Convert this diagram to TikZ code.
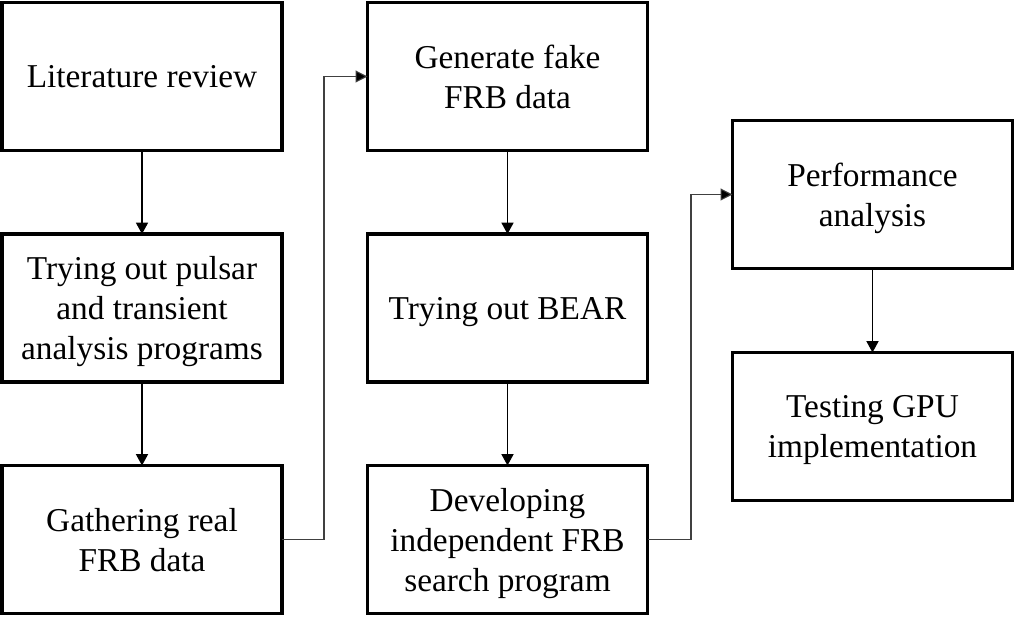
\documentclass[tikz,border=0pt]{standalone}
\usepackage{fontspec}
\setmainfont{Liberation Serif}
\usetikzlibrary{arrows.meta}
\begin{document}
\begin{tikzpicture}[x=0.75pt,y=-0.75pt,
  box/.style={draw=black,line width=2.4pt,minimum width=280*0.75pt,minimum height=148*0.75pt,
    inner sep=0pt,outer sep=0pt,align=center,text depth=0pt,font=\fontsize{25}{30}\selectfont},
  flow/.style={line width=1.1pt,-{Triangle[length=8.5pt,width=9pt]}},
  elbow/.style={line width=0.8pt,draw=black!75,-{Triangle[length=9pt,width=9pt,fill=black]}}]
\useasboundingbox (0,0) rectangle (1015,620);
\node[box] (lit) at (142,76.5) {Literature review};
\node[box] (try) at (142,308) {Trying out pulsar\\and transient\\analysis programs};
\node[box] (gat) at (142,539.5) {Gathering real\\FRB data};
\node[box] (gen) at (507.5,76.5) {Generate fake\\FRB data};
\node[box] (bear) at (507.5,308) {Trying out BEAR};
\node[box] (dev) at (507.5,539.5) {Developing\\independent FRB\\search program};
\node[box] (perf) at (872.5,194.5) {Performance\\analysis};
\node[box] (gpu) at (872.5,426.5) {Testing GPU\\implementation};
\draw[flow] (lit) -- (try);
\draw[flow] (try) -- (gat);
\draw[flow] (gen) -- (bear);
\draw[flow] (bear) -- (dev);
\draw[flow] (perf) -- (gpu);
\coordinate (e1) at (324,0);
\coordinate (e2) at (691,0);
\draw[elbow] (gat.east) -| (e1 |- gen.west) -- (gen.west);
\draw[elbow] (dev.east) -| (e2 |- perf.west) -- (perf.west);
\end{tikzpicture}
\end{document}
